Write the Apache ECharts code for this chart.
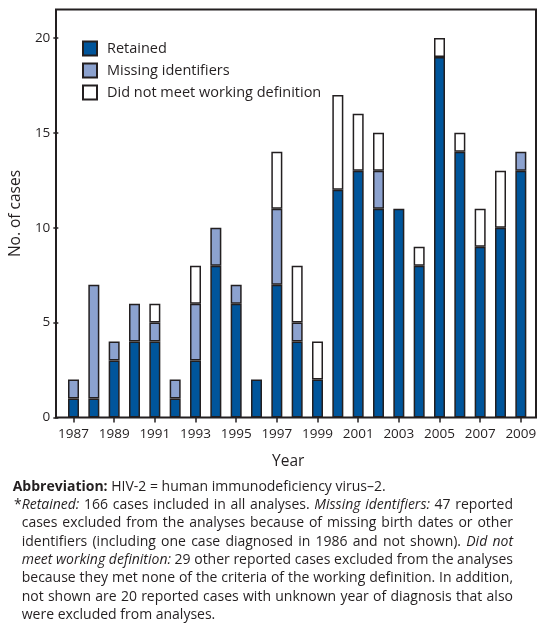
<!DOCTYPE html>
<html>
<head>
<meta charset="utf-8">
<script src="https://cdn.jsdelivr.net/npm/echarts@6/dist/echarts.min.js"></script>
<style>
html,body{margin:0;padding:0;background:#fff;}
#chart{width:550px;height:636px;}
</style>
</head>
<body>
<div id="chart"></div>
<script>
const years = ['1987','1988','1989','1990','1991','1992','1993','1994','1995','1996','1997','1998','1999','2000','2001','2002','2003','2004','2005','2006','2007','2008','2009'];
const retained    = [1,1,3,4,4,1,3,8,6,2,7,4,2,12,13,11,11,8,19,14,9,10,13];
const missingIds  = [1,6,1,2,1,1,3,2,1,0,4,1,0,0,0,2,0,0,0,0,0,0,1];
const notMeeting  = [0,0,0,0,1,0,2,0,0,0,3,3,2,5,3,2,0,1,1,1,2,3,0];
const yTicks = [0,5,10,15,20];
const seriesNames = ['Retained','Missing identifiers','Did not meet working definition'];

const footLines = [
  {x:12.7, justify:false, segs:[['Abbreviation:','b'],[' HIV-2 = human immunodeficiency virus\u20132.','']]},
  {x:21.7, justify:true, segs:[['Retained:','i'],[' 166 cases included in all analyses. ',''],['Missing identifiers:','i'],[' 47 reported','']]},
  {x:21.7, justify:true, segs:[['cases excluded from the analyses because of missing birth dates or other','']]},
  {x:21.7, justify:true, segs:[['identifiers (including one case diagnosed in 1986 and not shown). ',''],['Did not','i']]},
  {x:21.7, justify:true, segs:[['meet working definition:','i'],[' 29 other reported cases excluded from the analyses','']]},
  {x:21.7, justify:true, segs:[['because they met none of the criteria of the working definition. In addition,','']]},
  {x:21.7, justify:true, segs:[['not shown are 20 reported cases with unknown year of diagnosis that also','']]},
  {x:21.7, justify:false, segs:[['were excluded from analyses.','']]}
];

const TXT = '#231f20';
const FF = '"Open Sans", sans-serif';
let FS = 14;
function fontOf(s){ return (s==='i'?'italic ':'') + (s==='b'?'bold ':'') + FS + 'px ' + FF; }

const cv = document.createElement('canvas');
const ctx = cv.getContext('2d');
function w(t, s){ ctx.font = fontOf(s); return ctx.measureText(t).width; }

const graphics = [];
graphics.push({type:'rect', silent:true, z:10, shape:{x:56, y:9.5, width:480, height:408},
  style:{fill:'none', stroke:TXT, lineWidth:2}});

const lineY0 = 486.7, lineH = 18.33, rightEdge = 513;
footLines.forEach((ln, i) => {
  const words = [];
  ln.segs.forEach(([t, s]) => {
    t.split(' ').forEach(word => { if (word.length) words.push([word, s]); });
  });
  const widths = words.map(([t, s]) => w(t, s));
  const total = widths.reduce((a, b) => a + b, 0);
  let gap = w(' ', '');
  if (ln.justify && words.length > 1) gap = Math.max(2.5, (rightEdge - ln.x - total) / (words.length - 1));
  let x = ln.x;
  const y = lineY0 + i * lineH;
  words.forEach(([t, s], k) => {
    graphics.push({type:'text', silent:true, x:x, y:y,
      style:{text:t, font:fontOf(s), fill:TXT, textVerticalAlign:'middle'}});
    x += widths[k] + gap;
  });
});
graphics.push({type:'text', silent:true, x:14, y:lineY0 + lineH, style:{text:'*', font:fontOf(''), fill:TXT, textVerticalAlign:'middle'}});

const chart = echarts.init(document.getElementById('chart'));
const colors = ['#00559b', '#8ca2cf', '#ffffff'];
const dataSets = [retained, missingIds, notMeeting];

chart.setOption({
  animation:false,
  backgroundColor:'#fff',
  textStyle:{fontFamily:FF, color:TXT},
  grid:{left:61, right:19, top:9.5, bottom:218.5, containLabel:false},
  legend:{
    orient:'vertical', left:77, top:35.5, itemWidth:14, itemHeight:14, itemGap:6, icon:'rect',
    textStyle:{fontSize:14.5, color:TXT, fontFamily:FF, padding:[0,0,0,5]},
    data:seriesNames
  },
  xAxis:{
    type:'category', data:years, boundaryGap:true,
    axisLine:{show:false},
    axisTick:{show:true, alignWithLabel:true, interval:1, length:5, lineStyle:{color:TXT, width:1.5}},
    axisLabel:{interval:1, margin:10, fontSize:13.5, color:TXT, fontFamily:FF},
    name:'Year', nameLocation:'middle', nameGap:36,
    nameTextStyle:{fontSize:15.5, color:TXT, fontFamily:FF, padding:[0,18,0,0]}
  },
  yAxis:{
    type:'value', min:0, max:21.5, interval:5, offset:5,
    axisLine:{show:false},
    splitLine:{show:false},
    axisTick:{show:true, length:5, customValues:yTicks, lineStyle:{color:TXT, width:1.5}},
    axisLabel:{customValues:yTicks, margin:8, fontSize:13.5, color:TXT, fontFamily:FF},
    name:'No. of cases', nameLocation:'middle', nameGap:30,
    nameTextStyle:{fontSize:15.5, color:TXT, fontFamily:FF}
  },
  series: seriesNames.map((n, i) => ({
    name:n, type:'bar', stack:'total', barWidth:11,
    itemStyle:{color:colors[i], borderColor:TXT, borderWidth:1.5},
    data: dataSets[i].map(v => v === 0 ? '-' : v)
  })),
  graphic: graphics
});
</script>
</body>
</html>
